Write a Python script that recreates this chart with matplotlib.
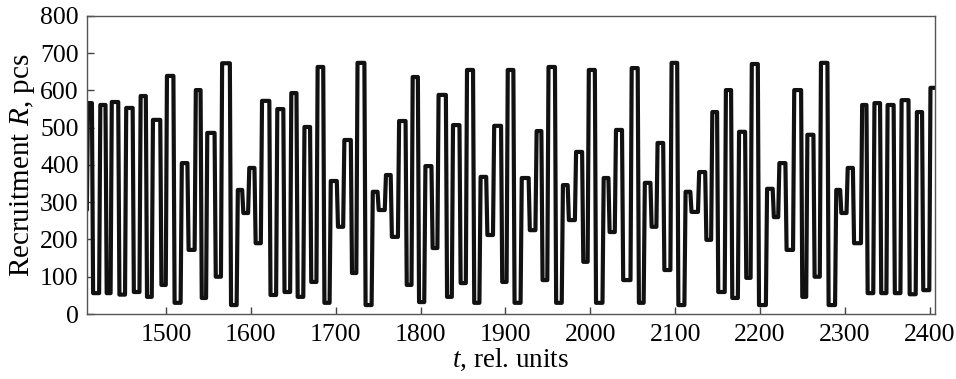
import matplotlib
matplotlib.use("Agg")
import matplotlib.pyplot as plt

plt.rcParams['font.family'] = ['Liberation Serif', 'DejaVu Serif']
plt.rcParams['mathtext.fontset'] = 'custom'
plt.rcParams['mathtext.rm'] = 'Liberation Serif'
plt.rcParams['mathtext.it'] = 'Liberation Serif:italic'

# plateaus of the recruitment series: start time, end time, level (pcs)
t_start = [1407, 1408, 1417, 1425, 1432, 1438, 1447, 1456, 1464, 1471, 1480, 1486, 1496,
           1503, 1513, 1520, 1529, 1537, 1544, 1550, 1561, 1568, 1580, 1586, 1593, 1600,
           1608, 1615, 1626, 1633, 1641, 1649, 1657, 1665, 1673, 1681, 1688, 1696, 1705,
           1712, 1721, 1727, 1739, 1745, 1752, 1761, 1768, 1776, 1785, 1792, 1800, 1808,
           1816, 1823, 1833, 1839, 1849, 1857, 1865, 1873, 1880, 1888, 1898, 1904, 1912,
           1921, 1930, 1938, 1945, 1953, 1961, 1970, 1977, 1985, 1993, 2000, 2008, 2018,
           2024, 2033, 2041, 2051, 2059, 2066, 2074, 2081, 2090, 2097, 2106, 2114, 2121,
           2130, 2139, 2145, 2153, 2162, 2169, 2177, 2186, 2191, 2200, 2210, 2218, 2224,
           2233, 2242, 2251, 2257, 2266, 2273, 2283, 2291, 2297, 2305, 2312, 2321, 2328,
           2338, 2344, 2352, 2361, 2368, 2378, 2387, 2395, 2402]
t_end = [1407, 1410, 1419, 1427, 1433, 1442, 1449, 1459, 1468, 1474, 1482, 1492, 1498,
         1506, 1516, 1523, 1532, 1539, 1546, 1555, 1563, 1572, 1582, 1588, 1595, 1602,
         1610, 1619, 1628, 1637, 1645, 1652, 1660, 1668, 1675, 1684, 1691, 1699, 1707,
         1716, 1723, 1730, 1741, 1748, 1756, 1763, 1772, 1781, 1788, 1795, 1802, 1811,
         1818, 1828, 1836, 1844, 1851, 1860, 1867, 1876, 1884, 1893, 1900, 1908, 1916,
         1926, 1934, 1941, 1947, 1957, 1964, 1971, 1980, 1989, 1995, 2004, 2012, 2020,
         2026, 2035, 2045, 2054, 2061, 2069, 2076, 2083, 2093, 2100, 2109, 2116, 2125,
         2133, 2141, 2147, 2156, 2164, 2172, 2180, 2188, 2196, 2205, 2213, 2220, 2228,
         2237, 2247, 2253, 2261, 2269, 2277, 2287, 2293, 2300, 2308, 2318, 2324, 2330,
         2340, 2347, 2355, 2364, 2373, 2381, 2388, 2398, 2406]
level = [280, 566, 56, 561, 56, 569, 52, 553, 59, 585, 46, 521, 78,
         639, 30, 405, 172, 601, 43, 486, 100, 673, 24, 333, 271, 392,
         190, 572, 51, 550, 59, 593, 46, 502, 86, 663, 30, 357, 234,
         467, 110, 674, 24, 328, 279, 373, 207, 518, 78, 636, 32, 397,
         177, 588, 46, 507, 83, 655, 30, 368, 212, 505, 86, 655, 30,
         365, 225, 491, 91, 663, 30, 346, 252, 435, 140, 655, 30, 365,
         220, 494, 91, 660, 30, 352, 234, 459, 118, 674, 24, 328, 274,
         381, 199, 542, 59, 601, 43, 489, 97, 671, 24, 336, 260, 405,
         172, 601, 46, 481, 100, 674, 24, 333, 271, 392, 190, 561, 56,
         566, 56, 561, 56, 574, 53, 542, 64, 607]

# switching times sit halfway between neighbouring plateaus
switch = [(b + a) / 2 for b, a in zip(t_end[:-1], t_start[1:])]
left = [t_start[0]] + [s + 0.7 for s in switch]
right = [s - 0.7 for s in switch] + [t_end[-1]]

t, r = [], []
for a, b, v in zip(left, right, level):
    t += [a, b]
    r += [v, v]

fig = plt.figure(figsize=(9.56, 3.79), dpi=100)
ax = fig.add_axes([0.091, 0.1715, 0.887, 0.7865])
ax.plot(t, r, color='#111111', lw=3.0, solid_joinstyle='round', solid_capstyle='round')

ax.set_xlim(1407, 2406)
ax.set_ylim(0, 800)
ax.set_xticks(range(1500, 2401, 100))
ax.set_yticks(range(0, 801, 100))
ax.tick_params(direction='in', length=5, width=1, labelsize=18.5, color='#444444',
               top=False, right=False)
ax.tick_params(axis='x', pad=7)
ax.tick_params(axis='y', pad=6)
for s in ax.spines.values():
    s.set_color('#555555')
    s.set_linewidth(1)
ax.set_xlabel('$t$, rel. units', fontsize=19.5, labelpad=1)
ax.set_ylabel('Recruitment $R$, pcs', fontsize=21, labelpad=2)

fig.savefig('out.png', dpi=100)
